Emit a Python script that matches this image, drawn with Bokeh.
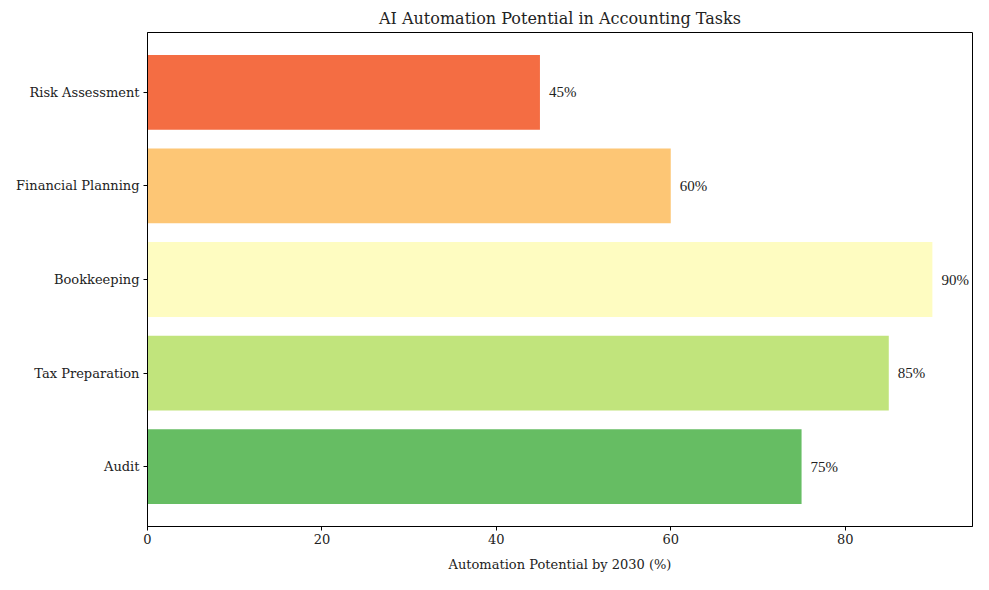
from bokeh.plotting import figure
from bokeh.models import ColumnDataSource, Range1d, FixedTicker, LabelSet
from bokeh.embed import file_html
from bokeh.resources import INLINE

tasks = ["Audit", "Tax Preparation", "Bookkeeping", "Financial Planning", "Risk Assessment"]
potential = [75, 85, 90, 60, 45]
colors = ["#66bd63", "#c1e47c", "#fefcc1", "#fdc675", "#f46d43"]
x_ticks = [0, 20, 40, 60, 80]

FONT = "DejaVu Serif"

pos = list(range(len(tasks)))
src = ColumnDataSource(dict(y=pos, v=potential, c=colors,
                            lbl=[f"{v}%" for v in potential]))

p = figure(width=973, height=574, output_backend="svg", toolbar_location=None,
           x_range=Range1d(0, 94.6), y_range=Range1d(-0.64, 4.64),
           title="AI Automation Potential in Accounting Tasks",
           min_border_left=147, min_border_right=1, min_border_top=32, min_border_bottom=42)

p.hbar(y="y", right="v", left=0, height=0.8, fill_color="c", line_color=None, source=src)

labels = LabelSet(x="v", y="y", text="lbl", source=src, x_offset=9, text_baseline="middle",
                  text_font=FONT, text_font_size="15px", text_color="#222222")
p.add_layout(labels)

p.title.text_font = FONT
p.title.text_font_size = "16px"
p.title.text_font_style = "normal"
p.title.align = "center"
p.title.text_color = "#222222"

p.xgrid.visible = False
p.ygrid.visible = False
p.outline_line_color = "black"
p.outline_line_width = 1
p.outline_line_alpha = 1

p.xaxis.ticker = FixedTicker(ticks=x_ticks)
p.yaxis.ticker = FixedTicker(ticks=pos)
p.yaxis.major_label_overrides = {i: t for i, t in enumerate(tasks)}
p.xaxis.axis_label = "Automation Potential by 2030 (%)"

for ax in (p.xaxis[0], p.yaxis[0]):
    ax.axis_line_color = "black"
    ax.major_tick_out = 4
    ax.major_tick_in = 0
    ax.minor_tick_out = 0
    ax.minor_tick_in = 0
    ax.major_label_text_font = FONT
    ax.major_label_text_font_size = "13px"
    ax.major_label_text_color = "#222222"
    ax.axis_label_text_font = FONT
    ax.axis_label_text_font_size = "13px"
    ax.axis_label_text_font_style = "normal"
    ax.axis_label_text_color = "#222222"
p.xaxis.axis_label_standoff = 10
p.yaxis.major_label_standoff = 4
p.xaxis.major_label_standoff = 3

open("out.html", "w").write(file_html(p, INLINE))
